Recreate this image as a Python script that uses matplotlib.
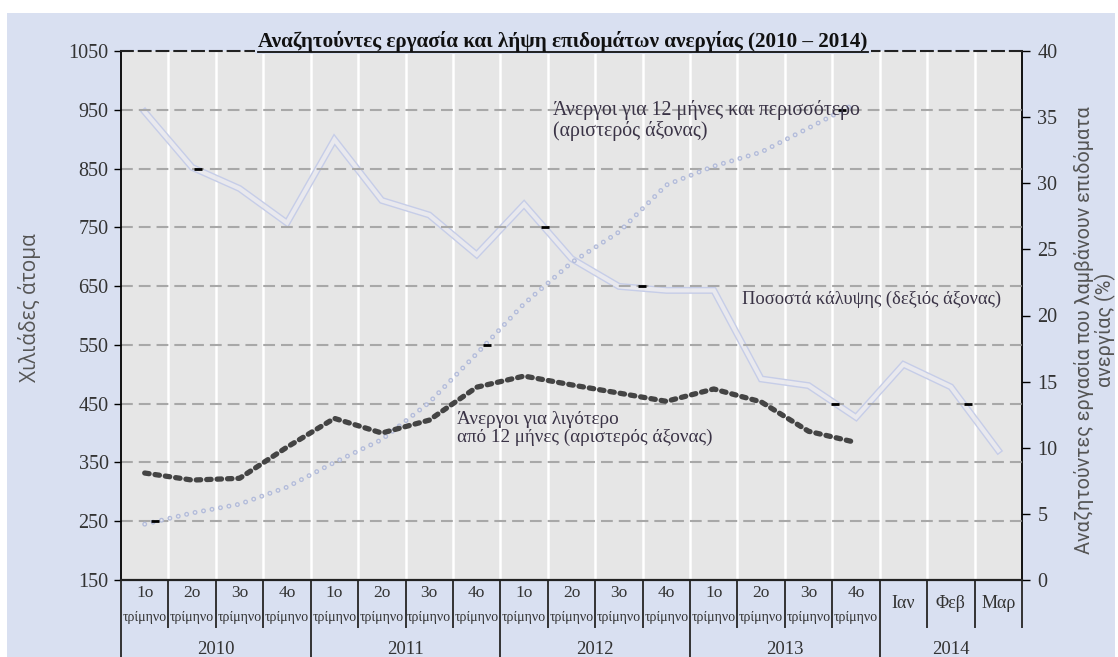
import matplotlib
matplotlib.use('Agg')
import matplotlib.pyplot as plt
import matplotlib.patheffects as pe
from matplotlib.patches import Rectangle
from matplotlib.lines import Line2D

plt.rcParams['lines.scale_dashes'] = False

# ---------------- data ----------------
top_labels = ['1ο', '2ο', '3ο', '4ο'] * 4 + ['Ιαν', 'Φεβ', 'Μαρ']
sub_labels = ['τρίμηνο'] * 16 + [''] * 3
years = ['2010', '2011', '2012', '2013', '2014']
year_counts = [4, 4, 4, 4, 3]

# thousands of persons (left axis), quarterly 2010-2013
short_term = [332, 320, 323, 376, 425, 400, 422, 478, 497, 482, 468, 454, 475, 453, 403, 384]
long_term = [245, 264, 279, 308, 350, 389, 452, 535, 620, 690, 742, 822, 854, 878, 919, 961]
# coverage rate % (right axis), quarterly 2010-2013 + Jan-Mar 2014
coverage = [35.4, 31.2, 29.6, 27.0, 33.3, 28.7, 27.6, 24.6, 28.4, 24.3, 22.2, 21.9, 21.9,
            15.2, 14.7, 12.3, 16.3, 14.6, 9.8]
# small black marks visible in the source graphic (category position, left-axis value)
mark_x = [0.22, 1.12, 7.22, 8.44, 10.49, 14.7, 14.56, 17.37]
mark_y = [250, 850, 550, 750, 650, 950, 450, 450]

left_ticks = list(range(150, 1051, 100))
right_ticks = list(range(0, 41, 5))

title = 'Αναζητούντες εργασία και λήψη επιδομάτων ανεργίας (2010 – 2014)'
left_label = 'Χιλιάδες άτομα'
right_label = 'Αναζητούντες εργασία που λαμβάνουν επιδόματα\nανεργίας (%)'
ann_long = 'Άνεργοι για 12 μήνες και περισσότερο\n(αριστερός άξονας)'
ann_short = 'Άνεργοι για λιγότερο\nαπό 12 μήνες (αριστερός άξονας)'
ann_cov = 'Ποσοστά κάλυψης (δεξιός άξονας)'

# ---------------- style ----------------
W, H = 1118, 657
BLUE = '#d9e0f1'
PLOTBG = '#e6e6e6'
TXT = '#333333'
ANN = '#3a3346'
SERIF = 'Liberation Serif'

fig = plt.figure(figsize=(W / 100, H / 100), dpi=100, facecolor='white')
fig.patches.append(Rectangle((7 / W, 0), (1115 - 7) / W, (H - 13) / H,
                             transform=fig.transFigure, facecolor=BLUE,
                             edgecolor='none', zorder=-10))

L, R, T, B = 121, 1022, 51, 580
ax2 = fig.add_axes([L / W, 1 - B / H, (R - L) / W, (B - T) / H])
ax = ax2.twinx()
ax.yaxis.set_label_position('left')
ax.yaxis.tick_left()
ax2.yaxis.tick_right()
ax.set_zorder(ax2.get_zorder() + 1)
ax.patch.set_visible(False)
ax2.patch.set_visible(True)
ax2.set_facecolor(PLOTBG)

n = len(top_labels)
x_all = list(range(n))
x_q = x_all[:len(short_term)]

ax2.set_xlim(-0.5, n - 0.5)
ax.set_ylim(left_ticks[0], left_ticks[-1])
ax2.set_ylim(right_ticks[0], right_ticks[-1])
ax.set_yticks(left_ticks)
ax2.set_yticks(right_ticks)
ax2.set_xticks([])

for a in (ax, ax2):
    for s in a.spines.values():
        s.set_visible(False)
ax.spines['left'].set_visible(True)
ax.spines['left'].set_color('black')
ax.spines['left'].set_linewidth(1.3)
ax.spines['bottom'].set_visible(True)
ax.spines['bottom'].set_color('#222222')
ax.spines['bottom'].set_linewidth(1.6)
ax.spines['top'].set_visible(True)
ax.spines['top'].set_color('#222222')
ax.spines['top'].set_linewidth(1.5)
ax.spines['top'].set_linestyle((0, (8.5, 4.3)))
ax2.spines['right'].set_visible(True)
ax2.spines['right'].set_color('black')
ax2.spines['right'].set_linewidth(1.3)

ax.tick_params(axis='y', direction='out', length=5, width=1, color='black',
               labelsize=14.5, labelcolor=TXT, pad=4)
ax2.tick_params(axis='y', direction='out', length=6, width=1, color='black',
                labelsize=14.5, labelcolor=TXT, pad=5)
ax.tick_params(axis='x', length=0)
ax2.tick_params(axis='x', length=0)
for lab in ax.get_yticklabels() + ax2.get_yticklabels():
    lab.set_family(SERIF)

# grid: vertical white separators, horizontal dashed grey lines
for k in range(n - 1):
    ax2.axvline(k + 0.5, color='white', lw=1.8, zorder=0.5)
for v in left_ticks[1:-1]:
    ax.axhline(v, color='#a8a8a8', lw=1.5, ls=(0, (8.5, 4.3)), zorder=1)

# coverage line: hollow double line
ax2.plot(x_all, coverage, color='#e9e9ee', lw=3.0, solid_joinstyle='miter',
         path_effects=[pe.Stroke(linewidth=5.0, foreground='#c6cde8'), pe.Normal()],
         zorder=2)

# long-term: small hollow circles
ax.plot(x_q, long_term, color='#b3bcda', lw=3.6, ls=(0, (0.001, 6.2)),
        dash_capstyle='round', zorder=3)
ax.plot(x_q, long_term, color='#e8e8ec', lw=1.7, ls=(0, (0.001, 6.2)),
        dash_capstyle='round', zorder=3.1)

# short-term: thick dark dashes
ax.plot(x_q, short_term, color='#444444', lw=3.8, ls=(0, (3.2, 4.3)),
        dash_capstyle='round', zorder=5)

ax.plot(mark_x, mark_y, ls='none', marker='_', ms=6, mew=2, color='black', zorder=6)

# annotations
ax.text(8.61, 967, ann_long, family=SERIF, size=14.3, color=ANN, va='top', ha='left',
        linespacing=1.05, zorder=7)
ax.text(6.59, 437, ann_short, family=SERIF, size=13.8, color=ANN, va='top', ha='left',
        linespacing=1.03, zorder=7)
ax.text(12.6, 627, ann_cov, family=SERIF, size=13.3, color=ANN, va='center', ha='left',
        zorder=7)

# category table below the axis
tr = ax.get_xaxis_transform()
row_bottom = -47 / (B - T)
for i in range(n):
    if sub_labels[i]:
        ax.text(i, -13 / (B - T), top_labels[i], transform=tr, ha='center', va='center',
                family=SERIF, size=12.5, color=TXT, clip_on=False)
        ax.text(i, -37 / (B - T), sub_labels[i], transform=tr, ha='center', va='center',
                family=SERIF, size=10, color=TXT, clip_on=False)
    else:
        ax.text(i, -23 / (B - T), top_labels[i], transform=tr, ha='center', va='center',
                family=SERIF, size=13, color=TXT, clip_on=False)

year_edges = [0]
for c in year_counts:
    year_edges.append(year_edges[-1] + c)
for k in range(n + 1):
    bottom = row_bottom
    if k in year_edges[:-1]:
        bottom = -0.3
    ax.add_line(Line2D([k - 0.5, k - 0.5], [0, bottom], transform=tr, color='#333333',
                       lw=1.4, clip_on=False))
for j, yr in enumerate(years):
    xc = (year_edges[j] + year_edges[j + 1] - 1) / 2
    ax.text(xc, -69 / (B - T), yr, transform=tr, ha='center', va='center',
            family=SERIF, size=13.5, color=TXT, clip_on=False)

# axis labels
fig.text(30 / W, 1 - 308 / H, left_label, rotation=90, family='Open Sans', size=15,
         color='#555555', ha='center', va='center')
fig.text(1095 / W, 1 - 330 / H, right_label, rotation=90, family='Roboto', size=14.3,
         color='#555555', ha='center', va='center', multialignment='center',
         linespacing=1.1)

# title with underline, covering the dashed top line
t = fig.text(563 / W, 1 - 47 / H, title, ha='center', va='baseline', family=SERIF,
             weight='bold', size=15.2, color='#111111', zorder=6)
fig.canvas.draw()
bb = t.get_window_extent()
top_px = H - T
fig.patches.append(Rectangle(((bb.x0 - 3) / W, (top_px - 3) / H), (bb.width + 6) / W,
                             (bb.y1 - top_px + 3) / H, transform=fig.transFigure,
                             facecolor=BLUE, edgecolor='none', zorder=5))
fig.lines.append(Line2D([bb.x0 / W, bb.x1 / W], [(top_px - 0.5) / H, (top_px - 0.5) / H],
                        transform=fig.transFigure, color='#111111', lw=1.3, zorder=7))

fig.savefig('out.png', dpi=100, facecolor='white')
